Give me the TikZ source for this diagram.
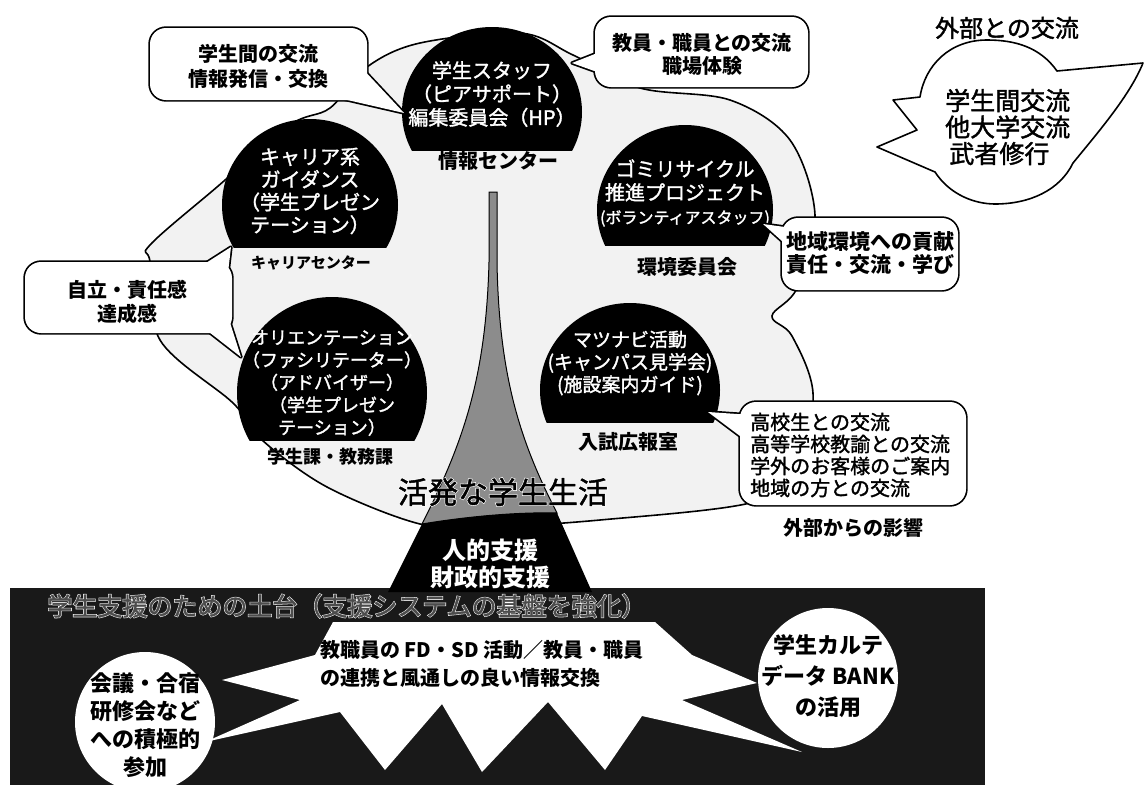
\documentclass[tikz,border=0pt]{standalone}
\usepackage{fontspec}
\setmainfont{Noto Sans CJK JP}
\newfontfamily\medfont[FakeBold=1.6]{Noto Sans CJK JP}
\newfontfamily\halofont[FakeBold=6]{Noto Sans CJK JP}
\newcommand\fs[2]{\fontsize{#1}{#2}\selectfont}
% black dome: ellipse cut by a horizontal chord
\newcommand\domeshape[5]{%
  \begin{scope}
    \clip (#1-#3-3,#2-#4-3) rectangle (#1+#3+3,#5);
    \fill[black] (#1,#2) ellipse [x radius=#3pt, y radius=#4pt];
  \end{scope}}
% speech bubble: rounded box plus tail, outlined as one shape
\newcommand\bubbleshape[2]{%
  \draw[bubline, rounded corners=16pt] #1;
  \draw[bubline] #2;
  \fill[white, rounded corners=16pt] #1;
  \fill[white] #2;}
\begin{document}
\begin{tikzpicture}[x=1pt,y=-1pt,
  bubline/.style={line width=3.4pt, line join=round},
  lbl/.style={font=\bfseries\fs{20}{24}, inner sep=1pt},
  domet/.style={text=white, align=center, inner sep=0pt},
  bubt/.style={font=\bfseries\fs{20}{24}, align=center, inner sep=0pt},
]
\useasboundingbox (0,0) rectangle (1144,785);
\fill[white] (0,0) rectangle (1144,785);

% ---------- foundation band ----------
\fill[black!90] (10,588) rectangle (985,785);
\fill[white] (333,622) -- (655,622) -- (692,655) -- (757,683) -- (682,700)
  -- (802,752) -- (642,716) -- (605,770) -- (548,702) -- (482,772)
  -- (442,704) -- (385,770) -- (340,712) -- (205,742) -- (300,700)
  -- (222,680) -- (315,655) -- cycle;
\fill[white] (145,722) circle [radius=70pt];
\fill[white] (828,678) circle [radius=70pt];
\node (titleHalo) [text=white, font=\halofont\fs{25}{25}] at (347,606)
    {学生支援のための土台（支援システムの基盤を強化）};
\node (title) [text=black!70, font=\medfont\fs{25}{25}] at (347,606)
    {学生支援のための土台（支援システムの基盤を強化）};
\node (fd) [font=\bfseries\fs{20}{28}, align=left, anchor=west, inner sep=0pt] at (320,664)
    {教職員の FD・SD 活動／教員・職員\\の連携と風通しの良い情報交換};
\node (mtg) [font=\bfseries\fs{22}{28}, align=center, inner sep=0pt] at (145,725)
    {会議・合宿\\研修会など\\への積極的\\参加};
\node (karte) [font=\bfseries\fs{22}{31}, align=center, inner sep=0pt] at (828,676)
    {学生カルテ\\データ BANK\\の活用};

% ---------- campus-life cloud ----------
\filldraw[fill=black!5, draw=black, line width=1.6pt]
  plot[smooth cycle, tension=0.55] coordinates {
   (420,43) (520,33) (573,55) (640,88) (730,100) (790,140) (815,215)
   (797,288) (772,316) (792,336) (813,393) (800,470) (750,503) (600,520)
   (490,527) (420,524) (327,487) (262,440) (233,403) (160,340) (150,262)
   (150,245) (217,187) (290,125) (330,108) (367,67)};

% ---------- central spire ----------
\filldraw[fill=black!45, draw=black, line width=1pt]
  (489,192) -- (497,192) -- (497,262) .. controls (499,380) and (522,445) .. (557,513)
  .. controls (520,512) and (470,516) .. (422,524)
  .. controls (462,445) and (486,380) .. (489,262) -- cycle;
\fill[black] (557,513) .. controls (520,512) and (470,516) .. (422,524)
  -- (388,592) -- (592,592) -- cycle;
\node (support) [text=white, font=\bfseries\fs{24}{27}, align=center, inner sep=0pt] at (490,564)
    {人的支援\\財政的支援};
\node (lifeHalo) [text=white, font=\halofont\fs{30}{30}] at (503,492) {活発な学生生活};
\node (life) [font=\medfont\fs{30}{30}] at (503,492) {活発な学生生活};

% ---------- activity domes ----------
\domeshape{492}{112}{90}{85}{150}
\domeshape{310}{205}{88}{86}{247}
\domeshape{332}{393}{95}{96}{440}
\domeshape{685}{210}{88}{85}{245}
\domeshape{630}{390}{90}{87}{422}

\node (staffT) [domet, font=\medfont\fs{20}{23.5}] at (492,94)
  {学生スタッフ\\（ピアサポート）\\編集委員会（HP）};
\node (staffL) [lbl] at (498,161) {情報センター};
\node (careerT) [domet, font=\medfont\fs{20}{22.7}] at (310,191)
  {キャリア系\\ガイダンス\\（学生プレゼン\\テーション）};
\node (careerL) [lbl, font=\bfseries\fs{15}{18}] at (311,263) {キャリアセンター};
\node (orientT) [domet, font=\medfont\fs{18}{22.5}] at (332,383)
  {オリエンテーション\\（ファシリテーター）\\（アドバイザー）\\（学生プレゼン\\テーション）};
\node (orientL) [lbl, font=\bfseries\fs{18}{22}] at (330,457) {学生課・教務課};
\node (gomiT) [domet, font=\medfont\fs{20}{23.5}] at (685,193)
  {ゴミリサイクル\\推進プロジェクト\\{\fs{16}{23.5}(ボランティアスタッフ)}};
\node (gomiL) [lbl] at (687,267) {環境委員会};
\node (matsuT) [domet, font=\medfont\fs{19}{22.5}] at (630,363)
  {マツナビ活動\\(キャンパス見学会)\\(施設案内ガイド)};
\node (matsuL) [lbl] at (628,442) {入試広報室};

% ---------- speech bubbles ----------
\bubbleshape{(150,28) rectangle (367,100)}{(330,96) -- (404,113) -- (360,66) -- cycle}
\bubbleshape{(595,17) rectangle (808,87)}{(605,50) -- (572,63) -- (625,82) -- cycle}
\bubbleshape{(25,262) rectangle (232,333)}
  {(195,270) -- (231,247) -- (226,290) -- cycle (200,325) -- (241,357) -- (226,310) -- cycle}
\bubbleshape{(782,218) rectangle (958,290)}{(792,228) -- (763,224) -- (792,250) -- cycle}
\bubbleshape{(740,402) rectangle (966,505)}{(752,415) -- (708,412) -- (752,445) -- cycle}

\node (b1T) [bubt, font=\bfseries\fs{20}{25}] at (258,66) {学生間の交流\\情報発信・交換};
\node (b2T) [bubt, font=\bfseries\fs{20}{23}] at (702,54) {教員・職員との交流\\職場体験};
\node (b3T) [bubt] at (127,302) {自立・責任感\\達成感};
\node (b4T) [bubt, font=\bfseries\fs{21}{23}] at (870,253) {地域環境への貢献\\責任・交流・学び};
\node (b5T) [align=left, anchor=west, font=\medfont\fs{20}{22}, inner sep=0pt] at (750,455)
  {高校生との交流\\高等学校教諭との交流\\学外のお客様のご案内\\地域の方との交流};
\node (infl) [lbl] at (853,528) {外部からの影響};

% ---------- outside exchange ----------
\filldraw[fill=white, draw=black, line width=1.6pt, line join=round]
  (1057,71) .. controls (1040,47) and (1015,40) .. (987,40)
  .. controls (950,40) and (925,65) .. (920,97) -- (893,100) -- (917,130)
  -- (877,147) -- (935,172)
  .. controls (950,195) and (975,204) .. (995,204)
  .. controls (1030,204) and (1060,190) .. (1073,163)
  .. controls (1100,130) and (1130,95) .. (1143,63) -- cycle;
\node (extL) [font=\medfont\fs{24}{24}] at (1007,28) {外部との交流};
\node (extT) [align=left, anchor=west, font=\medfont\fs{25}{26.5}, inner sep=0pt] at (945,127)
  {学生間交流\\他大学交流\\\,武者修行};
\end{tikzpicture}
\end{document}
